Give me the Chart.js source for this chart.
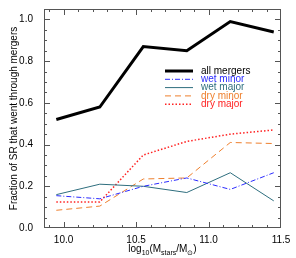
<!DOCTYPE html>
<html>
<head>
<meta charset="utf-8">
<script src="https://cdn.jsdelivr.net/npm/chart.js@4"></script>
<style>
  html, body { margin: 0; padding: 0; background: #fff; }
  #wrap { width: 296px; height: 258px; }
</style>
</head>
<body>
<div id="wrap"><canvas id="chart"></canvas></div>
<script>
// stellar mass bins, log10(Mstars/Msun)
const massBins = [9.95, 10.25, 10.55, 10.85, 11.15, 11.45]

const allMergers = [0.52, 0.58, 0.87, 0.85, 0.99, 0.94]
const wetMinor   = [0.155, 0.14, 0.20, 0.24, 0.185, 0.265]
const wetMajor   = [0.16, 0.21, 0.20, 0.17, 0.265, 0.13]
const dryMinor   = [0.085, 0.105, 0.235, 0.24, 0.41, 0.405]
const dryMajor   = [0.125, 0.125, 0.35, 0.415, 0.45, 0.47]

const xTicks = [10.0, 10.5, 11.0, 11.5]
const yTicks = [0.0, 0.2, 0.4, 0.6, 0.8, 1.0]

const FONT = "'Liberation Sans', Arial, sans-serif"

const series = [
  { label: 'all mergers', data: allMergers, color: '#000000', width: 3, dash: [] },
  { label: 'wet minor', data: wetMinor, color: '#2b2bff', width: 1, dash: [5, 2, 1, 2] },
  { label: 'wet major', data: wetMajor, color: '#2e6e7e', width: 1, dash: [] },
  { label: 'dry minor', data: dryMinor, color: '#ee7f2d', width: 1, dash: [6, 4] },
  { label: 'dry major', data: dryMajor, color: '#ff2222', width: 1.5, dash: [1.5, 2] },
]

// IDL style box: inward ticks on all four sides, legend in the plot, x title with subscripts
const idlBox = {
  id: 'idlBox',
  afterDraw(chart) {
    const ctx = chart.ctx
    const a = chart.chartArea
    const xs = chart.scales.x, ys = chart.scales.y
    ctx.save()
    ctx.strokeStyle = '#555'
    ctx.lineWidth = 1
    ctx.strokeRect(a.left + 0.5, a.top + 0.5, a.right - a.left - 1, a.bottom - a.top - 1)

    ctx.beginPath()
    for (let i = 99; i <= 115; i++) {
      const v = i / 10
      const px = Math.round(xs.getPixelForValue(v)) + 0.5
      if (px < a.left || px > a.right) continue
      const len = (i % 5 === 0) ? 6 : 3
      ctx.moveTo(px, a.bottom); ctx.lineTo(px, a.bottom - len)
      ctx.moveTo(px, a.top); ctx.lineTo(px, a.top + len)
    }
    for (let i = 0; i <= 21; i++) {
      const v = i * 0.05
      const py = Math.round(ys.getPixelForValue(v)) + 0.5
      if (py < a.top || py > a.bottom) continue
      const len = (i % 4 === 0) ? 6 : 3
      ctx.moveTo(a.left, py); ctx.lineTo(a.left + len, py)
      ctx.moveTo(a.right, py); ctx.lineTo(a.right - len, py)
    }
    ctx.stroke()

    // legend
    ctx.font = '10px ' + FONT
    ctx.textBaseline = 'middle'
    series.forEach((s, i) => {
      const y = 71 + i * 8.3
      ctx.beginPath()
      ctx.strokeStyle = s.color
      ctx.lineWidth = s.width
      ctx.setLineDash(s.dash)
      ctx.moveTo(165, y); ctx.lineTo(193, y)
      ctx.stroke()
      ctx.setLineDash([])
      ctx.fillStyle = s.color
      ctx.fillText(s.label, 201, y)
    })

    // x title: log10(Mstars/Msun)
    const parts = [
      ['log', 0, 10], ['10', 2.5, 7], ['(M', 0, 10], ['stars', 2.5, 7],
      ['/M', 0, 10], ['\u2299', 2.5, 7], [')', 0, 10]
    ]
    let total = 0
    parts.forEach(p => { ctx.font = p[2] + 'px ' + FONT; total += ctx.measureText(p[0]).width })
    let x = (a.left + a.right) / 2 - total / 2
    ctx.fillStyle = '#000'
    ctx.textBaseline = 'alphabetic'
    parts.forEach(p => {
      ctx.font = p[2] + 'px ' + FONT
      ctx.fillText(p[0], x, 252 + p[1])
      x += ctx.measureText(p[0]).width
    })
    ctx.restore()
  }
}

new Chart(document.getElementById('chart'), {
  type: 'line',
  data: {
    datasets: series.map(s => ({
      label: s.label,
      data: massBins.map((m, i) => ({ x: m, y: s.data[i] })),
      borderColor: s.color,
      borderWidth: s.width,
      borderDash: s.dash,
      pointRadius: 0,
      tension: 0,
      fill: false
    }))
  },
  options: {
    responsive: true,
    maintainAspectRatio: false,
    animation: false,
    layout: { padding: { top: 9, right: 15, left: 0, bottom: 0 } },
    plugins: { legend: { display: false }, tooltip: { enabled: false } },
    scales: {
      x: {
        type: 'linear',
        min: 9.865,
        max: 11.5,
        grid: { display: false },
        border: { display: false },
        afterBuildTicks: s => { s.ticks = xTicks.map(v => ({ value: v })) },
        afterFit: s => { s.height = 30 },
        ticks: {
          color: '#000',
          font: { family: FONT, size: 10 },
          maxRotation: 0,
          padding: -2,
          callback: v => v.toFixed(1)
        }
      },
      y: {
        min: 0,
        max: 1.05,
        grid: { display: false },
        border: { display: false },
        afterBuildTicks: s => { s.ticks = yTicks.map(v => ({ value: v })) },
        afterFit: s => { s.width = 44 },
        title: {
          display: true,
          text: 'Fraction of SR that went through mergers',
          color: '#000',
          font: { family: FONT, size: 10 },
          padding: { top: 8, bottom: 0 }
        },
        ticks: {
          color: '#000',
          font: { family: FONT, size: 10 },
          padding: 3,
          callback: v => v.toFixed(1)
        }
      }
    }
  },
  plugins: [idlBox]
})
</script>
</body>
</html>
